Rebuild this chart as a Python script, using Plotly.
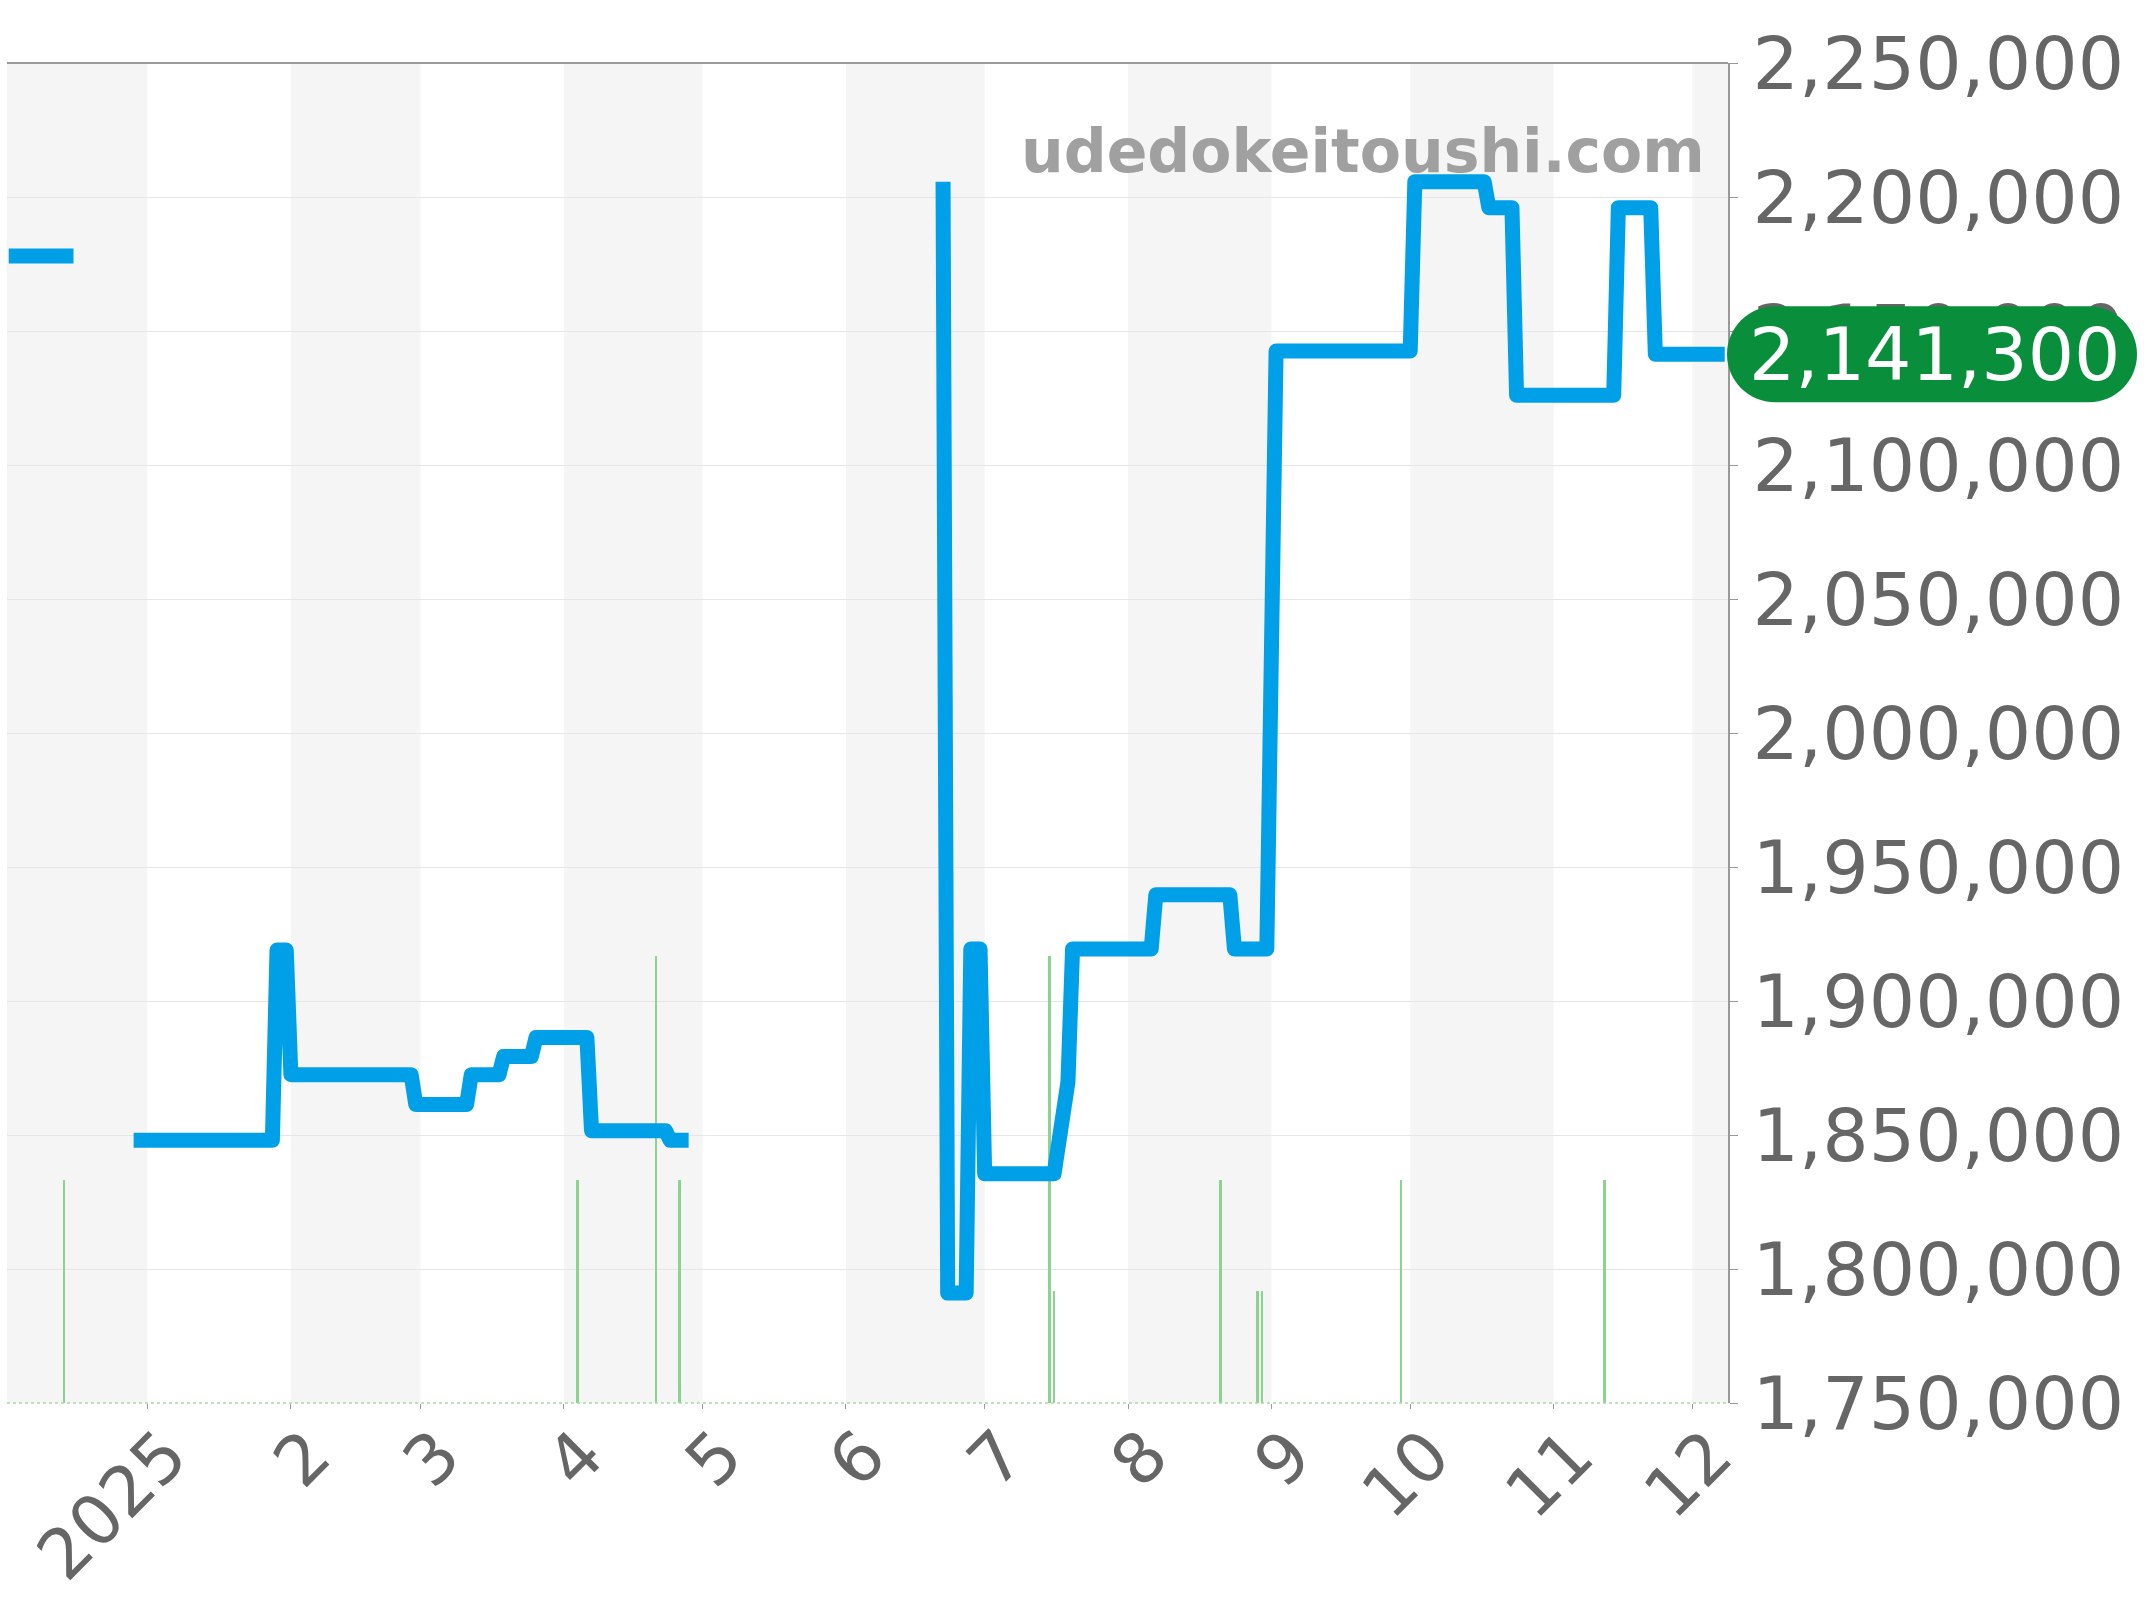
import plotly.graph_objects as go
import pandas as pd

# ---- data ----
price_dates = [
    "2024-12-02", "2024-12-16", "2024-12-22",
    "2024-12-29", "2025-01-28", "2025-01-29", "2025-01-31", "2025-02-01", "2025-02-27", "2025-02-28",
    "2025-03-11", "2025-03-12", "2025-03-18", "2025-03-19", "2025-03-25", "2025-03-26", "2025-04-06", "2025-04-07",
    "2025-04-23", "2025-04-24", "2025-04-28", "2025-05-20",
    "2025-06-22", "2025-06-23", "2025-06-27", "2025-06-28", "2025-06-30", "2025-07-01", "2025-07-16", "2025-07-19", "2025-07-20",
    "2025-08-06", "2025-08-07", "2025-08-23", "2025-08-24", "2025-08-31", "2025-09-02", "2025-10-01", "2025-10-02",
    "2025-10-17", "2025-10-18", "2025-10-23", "2025-10-24", "2025-11-14", "2025-11-15", "2025-11-22", "2025-11-23", "2025-12-08",
]
prices = [
    2178000, 2178000, None,
    1848000, 1848000, 1919000, 1919000, 1872500, 1872500, 1861400,
    1861400, 1872500, 1872500, 1879300, 1879300, 1886400, 1886400, 1851600,
    1851600, 1848000, 1848000, None,
    2205700, 1791000, 1791000, 1919400, 1919400, 1835500, 1835500, 1869700, 1919400,
    1919400, 1939600, 1939600, 1919400, 1919400, 2142500, 2142500, 2205700,
    2205700, 2196000, 2196000, 2126000, 2126000, 2196000, 2196000, 2141300, 2141300,
]

listing_dates = ["2024-12-14", "2025-04-04", "2025-04-21", "2025-04-26", "2025-07-15", "2025-07-16",
                 "2025-08-21", "2025-08-29", "2025-08-30", "2025-09-29", "2025-11-12"]
listing_counts = [2, 2, 4, 2, 4, 1, 2, 1, 1, 2, 2]

month_ticks = ["2025-01-01", "2025-02-01", "2025-03-01", "2025-04-01", "2025-05-01", "2025-06-01",
               "2025-07-01", "2025-08-01", "2025-09-01", "2025-10-01", "2025-11-01", "2025-12-01"]
month_labels = ["2025", "2", "3", "4", "5", "6", "7", "8", "9", "10", "11", "12"]

price_ticks = [1750000, 1800000, 1850000, 1900000, 1950000, 2000000, 2050000, 2100000,
               2150000, 2200000, 2250000]
latest_price = 2141300
watermark = "udedokeitoushi.com"

# ---- geometry ----
W, H = 2144, 1600
ML, MR, MT, MB = 7, 2144 - 1728, 63, 1600 - 1403
PW, PH = W - ML - MR, H - MT - MB
X_RANGE = ["2024-12-01 15:00", "2025-12-08 17:00"]
Y_RANGE = [1750000, 2250000]
FONT = "DejaVu Sans"
LINE_BLUE = "#00a0e9"
LW = 15

fig = go.Figure()

fig.add_trace(go.Bar(
    x=listing_dates, y=listing_counts, yaxis="y",
    marker=dict(color="#8ad48f", line=dict(width=0)),
    width=4.4e7, showlegend=False, hoverinfo="skip",
))
fig.add_trace(go.Scatter(
    x=price_dates, y=prices, yaxis="y2", mode="lines",
    line=dict(color=LINE_BLUE, width=LW), connectgaps=False,
    showlegend=False,
))

# alternating month bands
shapes = []
starts = pd.date_range("2024-12-01", "2026-01-01", freq="MS")
rng_end = pd.Timestamp(X_RANGE[1])
rng_start = pd.Timestamp(X_RANGE[0])
for i in range(0, len(starts) - 1, 2):
    s, e = starts[i], starts[i + 1]
    s = max(s, rng_start)
    e = min(e, rng_end)
    shapes.append(dict(type="rect", xref="x", yref="paper", x0=s, x1=e, y0=0, y1=1,
                       fillcolor="#f5f5f5", line=dict(width=0), layer="below"))

# top border and bottom dotted baseline
shapes.append(dict(type="line", xref="paper", yref="paper", x0=0, x1=1, y0=1, y1=1,
                   line=dict(color="#9a9a9a", width=2)))
shapes.append(dict(type="line", xref="paper", yref="paper", x0=0, x1=1, y0=0, y1=0,
                   line=dict(color="#a6dca6", width=1.5, dash="dot")))

# rounded pill for latest price
def px2paper(px, py):
    return (px - ML) / PW, (MT + PH - py) / PH

cy = MT + PH - (latest_price - Y_RANGE[0]) / (Y_RANGE[1] - Y_RANGE[0]) * PH
r = 48
L, R = 1727, 2137
top, bot = cy - r, cy + r
k = 0.5523 * r
pts = [
    ("M", [(L + r, top)]),
    ("L", [(R - r, top)]),
    ("C", [(R - r + k, top), (R, cy - k), (R, cy)]),
    ("C", [(R, cy + k), (R - r + k, bot), (R - r, bot)]),
    ("L", [(L + r, bot)]),
    ("C", [(L + r - k, bot), (L, cy + k), (L, cy)]),
    ("C", [(L, cy - k), (L + r - k, top), (L + r, top)]),
]
path = ""
for cmd, plist in pts:
    path += cmd + " " + " ".join("%.6f,%.6f" % px2paper(px, py) for px, py in plist) + " "
path += "Z"
shapes.append(dict(type="path", xref="paper", yref="paper", path=path,
                   fillcolor="#098f3b", line=dict(width=0), layer="above"))

annotations = [
    dict(xref="paper", yref="paper", x=(1707 - ML) / PW, y=(MT + PH - 151) / PH,
         xanchor="right", yanchor="middle", showarrow=False,
         text="<b>%s</b>" % watermark, font=dict(family=FONT, size=60, color="#a0a0a0")),
    dict(xref="paper", yref="y2", x=((L + R) / 2 + 3 - ML) / PW, y=latest_price,
         xanchor="center", yanchor="middle", showarrow=False,
         text=f"{latest_price:,}", font=dict(family=FONT, size=73, color="#ffffff")),
]

fig.update_layout(
    width=W, height=H,
    margin=dict(l=ML, r=MR, t=MT, b=MB, pad=0, autoexpand=False),
    paper_bgcolor="#ffffff", plot_bgcolor="#ffffff",
    font=dict(family=FONT, color="#666666"),
    bargap=0,
    xaxis=dict(type="date", range=X_RANGE, tickvals=month_ticks, ticktext=month_labels,
               tickangle=-45, tickfont=dict(family=FONT, size=69, color="#666666"),
               ticks="outside", ticklen=5, tickwidth=1, tickcolor="#999999",
               ticklabeloverflow="allow", ticklabelshift=19, ticklabelstandoff=-22,
               showgrid=False, showline=False, zeroline=False, automargin=False),
    yaxis=dict(range=[0, 12], visible=False, fixedrange=True),
    yaxis2=dict(overlaying="y", side="right", range=Y_RANGE, tickvals=price_ticks,
                tickformat=",", tickfont=dict(family=FONT, size=73, color="#666666"),
                ticks="outside", ticklen=8, tickwidth=1, tickcolor="#999999",
                ticklabeloverflow="allow", automargin=False,
                showline=True, linecolor="#999999", linewidth=2,
                showgrid=True, gridcolor="#e6e6e6", gridwidth=1, zeroline=False),
    shapes=shapes,
    annotations=annotations,
)

post = (
    "document.body.style.margin='0px';"
    "document.querySelectorAll('path.js-line').forEach(function(p){p.style.strokeLinejoin='round';});"
)
fig.write_html("out.html", config={"displayModeBar": False}, post_script=post)
